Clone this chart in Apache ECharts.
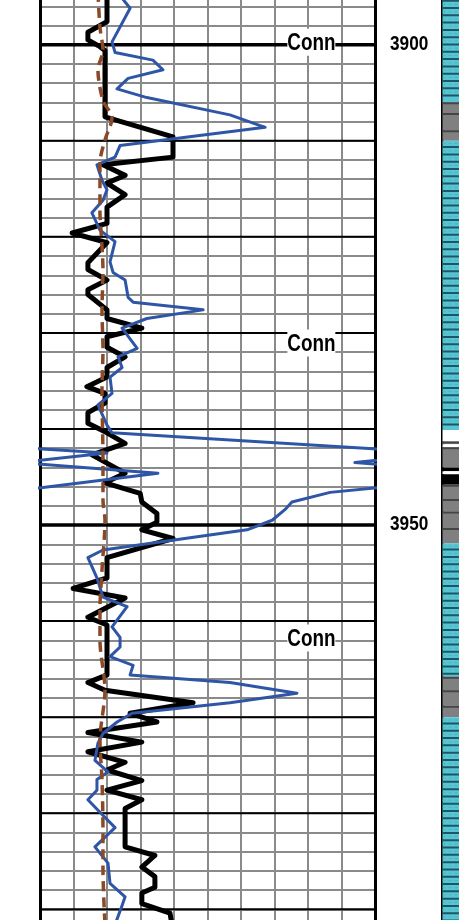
<!DOCTYPE html>
<html>
<head>
<meta charset="utf-8">
<script src="https://cdn.jsdelivr.net/npm/echarts@6/dist/echarts.min.js"></script>
<style>html,body{margin:0;padding:0;background:#fff}#c{width:459px;height:920px}</style>
</head>
<body>
<div id="c"></div>
<script>
// ---- data ----
const depthMin = 3894, depthMax = 3992;
const curveMin = 0, curveMax = 100;

const blackDepth = [3894,3897.6,3898.7,3899.5,3900.2,3900.6,3907.5,3909.6,3911.7,3912.5,3913.6,3914.4,3915.6,3916.9,3918.6,3919.6,3920.6,3922.7,3923.4,3924.5,3925.5,3926.0,3927.6,3928.5,3929.5,3930.4,3931.5,3932.5,3933.6,3934.6,3935.6,3936.3,3937.3,3938.3,3939.4,3940.4,3941.5,3942.7,3944.6,3945.6,3946.7,3947.6,3948.8,3949.7,3950.5,3951.4,3953.4,3955.5,3956.6,3957.6,3959.6,3960.4,3965.6,3966.4,3967.2,3968.5,3969.6,3970.5,3971.6,3972.6,3973.6,3974.7,3975.5,3976.6,3977.6,3978.6,3979.5,3983.5,3984.4,3985.6,3986.6,3987.7,3988.3,3989.4,3990.4,3991.6];
const blackValue = [20.0,20.0,14.3,14.3,17.9,19.4,19.4,39.7,39.7,18.8,25.4,20.0,25.4,20.0,20.0,9.6,20.0,14.3,14.3,20.0,14.3,14.3,20.0,20.0,30.4,20.0,20.0,25.4,20.0,20.0,14.0,19.4,19.4,14.3,14.3,20.0,25.4,15.5,25.4,19.4,29.9,30.4,34.9,34.9,30.4,39.7,20.0,20.0,9.9,25.4,14.3,20.0,20.0,14.3,19.4,45.7,26.9,34.9,14.3,30.4,14.3,25.4,20.0,30.4,20.0,30.4,25.4,25.4,34.3,30.4,34.3,34.3,30.4,30.4,38.8,39.4];

const blueDepth = [3894.5,3896.2,3899.7,3900.8,3901.6,3902.6,3903.5,3904.6,3905.5,3907.3,3908.6,3910.5,3911.7,3912.5,3914.1,3915.1,3916.2,3917.5,3919.3,3920.5,3922.6,3923.7,3924.5,3926.3,3926.8,3927.6,3928.5,3929.5,3931.6,3932.5,3933.6,3934.6,3936.3,3937.5,3939.6,3940.4,3942.5,3943.5,3944.6,3946.1,3946.6,3947.6,3948.4,3949.5,3950.5,3952.6,3953.4,3955.5,3957.5,3958.5,3960.6,3961.7,3962.7,3963.7,3964.6,3965.6,3966.4,3967.5,3968.5,3969.6,3970.5,3971.7,3972.7,3974.5,3975.7,3976.5,3977.6,3978.6,3979.9,3981.5,3983.5,3985.2,3987.3,3988.7,3989.6,3991.6];
const blueValue = [23.0,26.9,21.5,22.4,33.7,36.7,26.3,23.0,31.9,56.7,67.2,23.9,22.4,17.0,18.5,20.0,18.8,15.5,17.9,22.4,20.9,21.8,25.4,26.3,27.8,48.7,31.9,24.5,29.0,23.3,24.5,20.9,21.5,17.3,20.0,21.5,120.0,94.0,135.2,100.9,86.6,75.2,73.1,69.3,61.8,18.8,14.3,17.0,18.8,26.0,21.5,23.9,23.9,20.9,27.8,26.9,56.7,76.7,56.7,27.5,23.0,18.8,17.3,16.4,20.3,17.0,17.0,14.3,17.9,22.4,16.4,20.3,20.9,25.4,24.5,22.4];

const brownDepth = [3894.5,3898.2,3900.6,3902.6,3905.8,3907.6,3909.9,3912.3,3917.5,3919.3,3923.5,3927.6,3931.8,3935.9,3943.2,3947.4,3949.5,3954.7,3958.8,3962.0,3967.2,3972.4,3976.5,3981.8,3985.9,3991.6];
const brownValue = [17.3,17.9,18.8,17.3,18.8,21.5,19.4,17.9,17.9,18.2,18.8,18.5,18.8,18.5,18.8,18.8,19.4,18.5,17.9,17.9,19.4,17.9,18.5,18.8,18.8,19.4];

const majorDepths = [3900,3910,3920,3930,3940,3950,3960,3970,3980,3990];
const depthLabels = [3900, 3950];
const connDepths = [3899.8, 3931.1, 3961.8];
const connValue = 81;
const connText = 'Conn';

// lithology intervals: C = cyan, G = grey, W = white, K = black
const lithTop    = [3894,3906.0,3907.1,3908.9,3910.0,3940.1,3941.3,3941.6,3941.9,3944.0,3944.4,3944.7,3945.8,3947.3,3948.6,3950.3,3951.9,3965.8,3967.2,3968.8,3970.0];
const lithBottom = [3906.0,3907.1,3908.9,3910.0,3940.1,3941.3,3941.6,3941.9,3944.0,3944.4,3944.7,3945.8,3947.3,3948.6,3950.3,3951.9,3965.8,3967.2,3968.8,3970.0,3992];
const lithType   = ['C','G','G','G','C','W','G','W','G','K','W','K','G','G','G','G','C','G','G','G','C'];

// ---- chart ----
const FONT = "'Liberation Sans','Arial',sans-serif";
const pairs = (vals, deps, shift) => vals.map((v, i) => [v - (shift || 0), deps[i]]);
const chart = echarts.init(document.getElementById('c'), null, {renderer: 'canvas'});

const gridTop = -12.9, gridH = 941.4;
const lithColors = {C: '#58c5d5', G: '#808080', W: '#ffffff', K: '#000000'};

chart.setOption({
  animation: false,
  backgroundColor: '#fff',
  grid: [
    {left: 40, width: 335, top: gridTop, height: gridH, outerBoundsMode: 'none', containLabel: false},
    {left: 442.5, width: 40, top: gridTop, height: gridH, outerBoundsMode: 'none', containLabel: false}
  ],
  xAxis: [
    {gridIndex: 0, type: 'value', min: curveMin, max: curveMax, interval: 10,
     axisLine: {show: false}, axisTick: {show: false}, axisLabel: {show: false},
     splitLine: {show: true, showMinLine: false, showMaxLine: false, lineStyle: {color: '#8a8a8a', width: 2}}},
    {gridIndex: 1, type: 'value', min: 0, max: 1, show: false}
  ],
  yAxis: [
    {gridIndex: 0, type: 'value', inverse: true, min: depthMin, max: depthMax, interval: 2, position: 'left',
     axisLine: {show: true, onZero: false, lineStyle: {color: '#000', width: 3}},
     axisTick: {show: false}, axisLabel: {show: false},
     splitLine: {show: true, lineStyle: {color: '#8a8a8a', width: 2}}},
    {gridIndex: 0, type: 'value', inverse: true, min: depthMin, max: depthMax, position: 'right',
     axisLine: {show: true, onZero: false, lineStyle: {color: '#000', width: 3}},
     axisTick: {show: false}, splitLine: {show: false}, axisLabel: {show: false}},
    {gridIndex: 1, type: 'value', inverse: true, min: depthMin, max: depthMax, position: 'left',
     axisLine: {show: true, onZero: false, lineStyle: {color: '#000', width: 3}},
     axisTick: {show: false}, axisLabel: {show: false}, splitLine: {show: false}}
  ],
  series: [
    { // lithology column
      type: 'custom', xAxisIndex: 1, yAxisIndex: 2, z: 1, silent: true,
      encode: {x: 0, y: [1, 2]},
      data: lithTop.map((t, i) => [0, t, lithBottom[i], i]),
      renderItem: (params, api) => {
        const i = api.value(3);
        const type = lithType[i];
        const p1 = api.coord([0, api.value(1)]);
        const p2 = api.coord([1, api.value(2)]);
        const children = [{type: 'rect', shape: {x: p1[0], y: p1[1], width: p2[0] - p1[0], height: p2[1] - p1[1]},
          style: {fill: lithColors[type]}}];
        if (type === 'C') {
          const step = 7.3;
          for (let y = p1[1] + step - 1; y < p2[1]; y += step) {
            children.push({type: 'line', shape: {x1: p1[0], y1: y, x2: p2[0], y2: y}, style: {stroke: '#1d5763', lineWidth: 2}});
            children.push({type: 'line', shape: {x1: p1[0], y1: y - 3.6, x2: p2[0], y2: y - 3.6}, style: {stroke: '#4fb3c2', lineWidth: 1, lineDash: [3, 3]}});
          }
        } else if (type === 'G') {
          children.push({type: 'line', shape: {x1: p1[0], y1: p1[1] + 1, x2: p2[0], y2: p1[1] + 1}, style: {stroke: '#454545', lineWidth: 2}});
        }
        return {type: 'group', children};
      }
    },
    { // 10 ft depth lines
      type: 'custom', xAxisIndex: 0, yAxisIndex: 0, z: 3, silent: true,
      encode: {x: 0, y: 1},
      data: majorDepths.map(d => [0, d]),
      renderItem: (params, api) => {
        const d = api.value(1);
        const a = api.coord([curveMin, d]), b = api.coord([curveMax, d]);
        return {type: 'line', shape: {x1: a[0], y1: a[1], x2: b[0], y2: b[1]},
          style: {stroke: '#000', lineWidth: depthLabels.indexOf(d) >= 0 ? 3.5 : 2}};
      }
    },
    {type: 'line', xAxisIndex: 0, yAxisIndex: 0, z: 4, data: pairs(blackValue, blackDepth), showSymbol: false, symbol: 'none', clip: true,
     lineStyle: {color: '#000', width: 5, join: 'round'}, silent: true},
    {type: 'line', xAxisIndex: 0, yAxisIndex: 0, z: 5, data: pairs(blueValue, blueDepth), showSymbol: false, symbol: 'none', clip: true,
     lineStyle: {color: '#2e55a6', width: 3, join: 'round'}, silent: true},
    {type: 'line', xAxisIndex: 0, yAxisIndex: 0, z: 5, data: pairs(blueValue, blueDepth, curveMax - curveMin), showSymbol: false, symbol: 'none', clip: true,
     lineStyle: {color: '#2e55a6', width: 3, join: 'round'}, silent: true},
    {type: 'line', xAxisIndex: 0, yAxisIndex: 0, z: 6, data: pairs(brownValue, brownDepth), showSymbol: false, symbol: 'none', clip: true, smooth: 0.3,
     lineStyle: {color: '#8a4a28', width: 3.5, type: [10, 6], cap: 'butt'}, silent: true},
    { // "Conn" labels
      type: 'custom', xAxisIndex: 0, yAxisIndex: 0, z: 10, silent: true,
      encode: {x: 0, y: 1},
      data: connDepths.map(d => [connValue, d]),
      renderItem: (params, api) => {
        const p = api.coord([api.value(0), api.value(1)]);
        return {type: 'group', children: [
          {type: 'rect', shape: {x: p[0] - 24, y: p[1] - 14, width: 48, height: 27}, style: {fill: '#fff'}},
          {type: 'text', x: p[0], y: p[1] + 1, scaleX: 0.82,
           style: {text: connText, font: 'bold 23px ' + FONT, fill: '#000', align: 'center', verticalAlign: 'middle'}}
        ]};
      }
    },
    { // depth labels
      type: 'custom', xAxisIndex: 0, yAxisIndex: 0, z: 10, silent: true,
      encode: {x: 0, y: 1},
      data: depthLabels.map(d => [curveMax, d]),
      renderItem: (params, api) => {
        const p = api.coord([api.value(0), api.value(1)]);
        return {type: 'text', x: p[0] + 15, y: p[1] - 1, scaleX: 0.82,
          style: {text: String(api.value(1)), font: 'bold 21px ' + FONT, fill: '#000', align: 'left', verticalAlign: 'middle'}};
      }
    }
  ]
});
</script>
</body>
</html>
